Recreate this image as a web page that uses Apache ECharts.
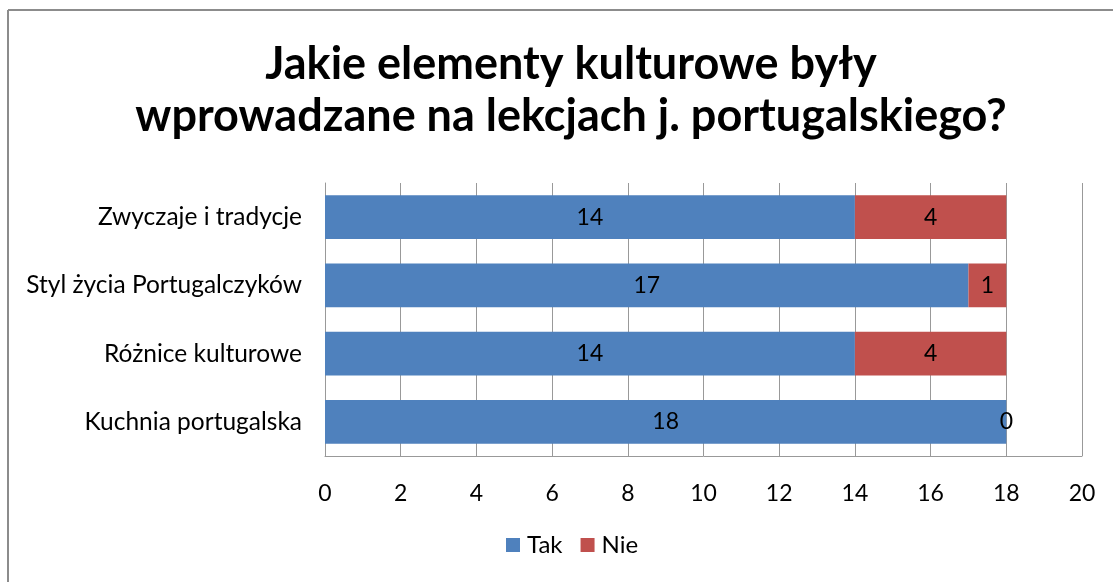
<!DOCTYPE html>
<html><head><meta charset="utf-8">
<script src="https://cdn.jsdelivr.net/npm/echarts@6/dist/echarts.min.js"></script>
<style>html,body{margin:0;padding:0;background:#fff}#c{width:1113px;height:582px}</style>
</head><body><div id="c"></div>
<script>
var categories = ['Kuchnia portugalska', 'Różnice kulturowe', 'Styl życia Portugalczyków', 'Zwyczaje i tradycje'];
var takValues = [18, 14, 17, 14];
var nieValues = [0, 4, 1, 4];
var seriesNames = ['Tak', 'Nie'];
var titleText = 'Jakie elementy kulturowe były\nwprowadzane na lekcjach j. portugalskiego?';

var FONT = 'Lato, "Open Sans", sans-serif';
var chart = echarts.init(document.getElementById('c'), null, {renderer: 'canvas'});
var labelOpt = {show: true, position: 'inside', color: '#000', fontSize: 23, fontFamily: FONT};
chart.setOption({
  animation: false,
  backgroundColor: '#fff',
  graphic: [
    {type: 'line', shape: {x1: 8, y1: 10, x2: 8, y2: 582}, style: {stroke: '#8c8c8c', lineWidth: 2}},
    {type: 'line', shape: {x1: 8, y1: 10, x2: 1113, y2: 10}, style: {stroke: '#8c8c8c', lineWidth: 2}}
  ],
  title: {
    text: titleText,
    left: 566, top: 33, textAlign: 'center',
    textStyle: {fontFamily: FONT, fontWeight: 'bold', fontSize: 45, lineHeight: 52, color: '#000'}
  },
  legend: {
    data: seriesNames, bottom: 20, left: 501,
    itemWidth: 14, itemHeight: 14, itemGap: 18, icon: 'rect',
    textStyle: {fontFamily: FONT, fontSize: 24, color: '#000', padding: [0, 0, 0, 2]}
  },
  grid: {left: 325, right: 31, top: 183, bottom: 126, containLabel: false},
  xAxis: {
    type: 'value', min: 0, max: 20, interval: 2,
    axisLine: {show: true, lineStyle: {color: '#999'}},
    axisTick: {show: false},
    splitLine: {show: true, lineStyle: {color: '#999', width: 1}},
    axisLabel: {fontFamily: FONT, fontSize: 23, color: '#000', margin: 26}
  },
  yAxis: {
    type: 'category', data: categories,
    axisLine: {show: true, lineStyle: {color: '#999'}},
    axisTick: {show: false},
    axisLabel: {fontFamily: FONT, fontSize: 24.5, color: '#000', margin: 23}
  },
  series: [
    {name: 'Tak', type: 'bar', stack: 's', data: takValues, barCategoryGap: '36%',
     itemStyle: {color: '#4F81BD'}, label: labelOpt},
    {name: 'Nie', type: 'bar', stack: 's', data: nieValues,
     itemStyle: {color: '#C0504D'}, label: labelOpt}
  ]
});
</script></body></html>
